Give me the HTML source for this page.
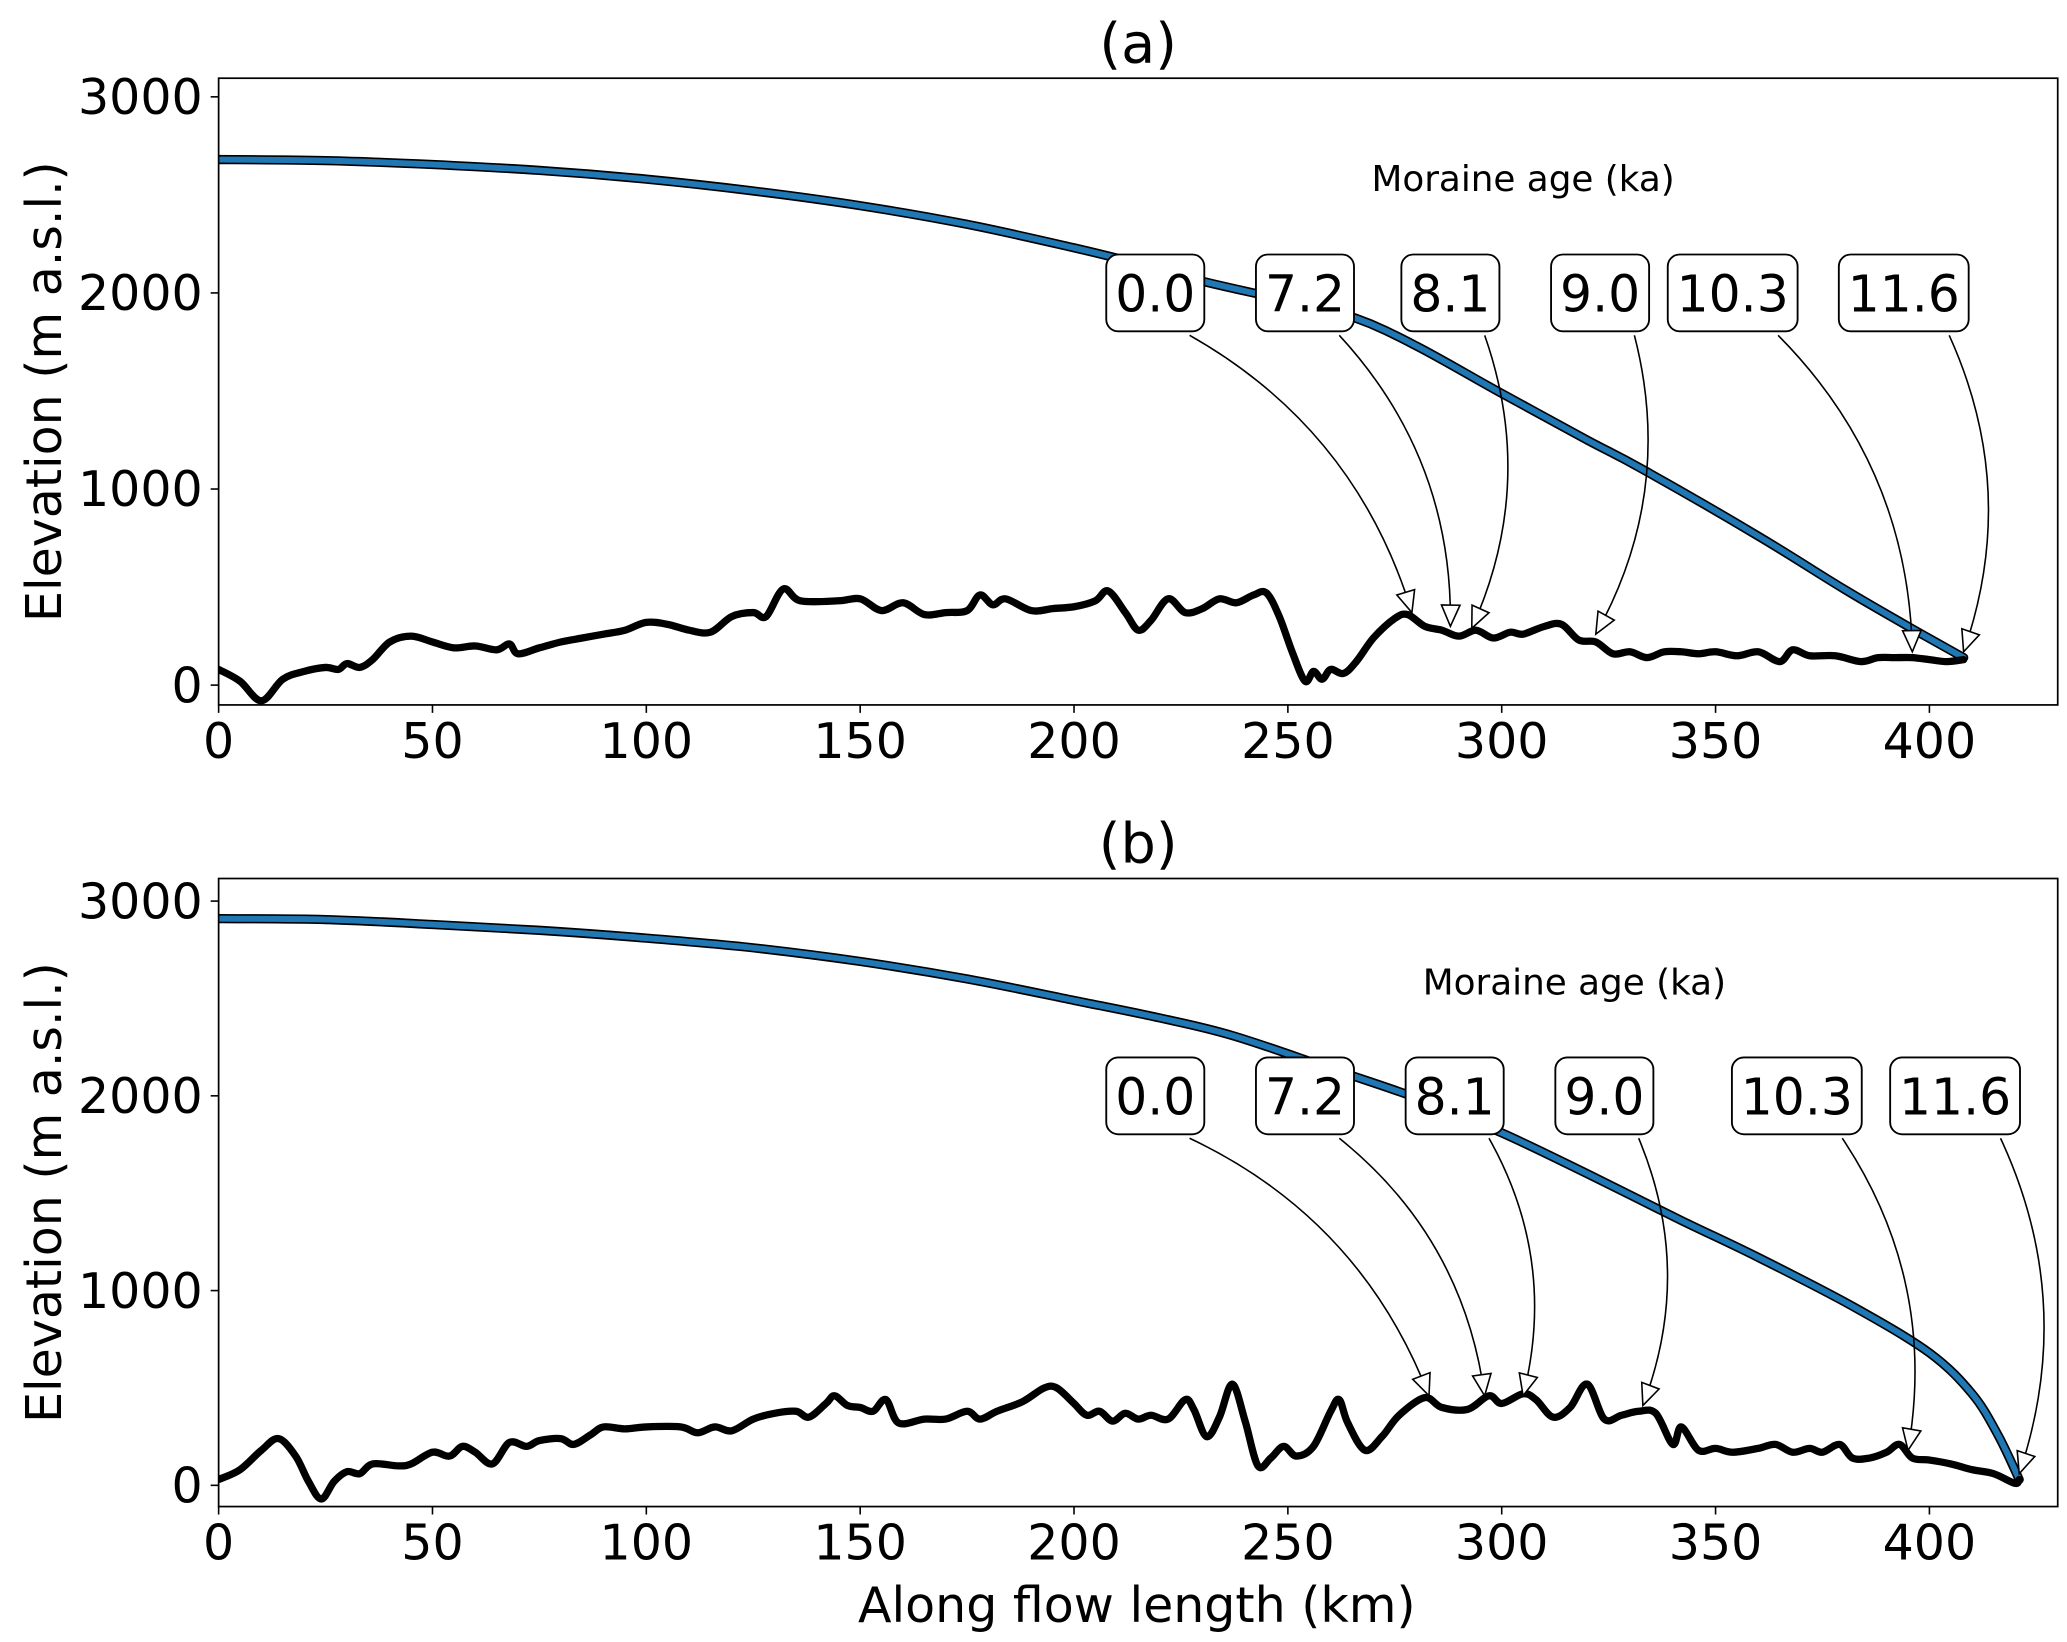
<!DOCTYPE html>
<html><head><meta charset="utf-8"><style>
html,body{margin:0;padding:0;background:#fff}
svg{display:block}
text{font-family:"DejaVu Sans","Liberation Sans",sans-serif;fill:#000}
</style></head><body>
<svg id="chart" width="2067" height="1642" viewBox="0 0 1560 1239.2" xmlns="http://www.w3.org/2000/svg">
</svg>
<script>
// Panel (a) data
const surfA_km = [0,25,50,75,100,125,150,175,200,215,230,250,266,280,299,320,333,360,380,395,408];
const surfA_el = [2680,2675,2655,2625,2580,2520,2445,2350,2230,2150,2060,1960,1870,1730,1500,1250,1100,760,490,300,140];
const bedA_km = [0,5,10,15,20,25,28,30,33,36,40,45,50,55,60,65,68,70,75,80,85,90,95,100,105,110,115,120,125,128,132,136,145,150,155,160,165,170,175,178,181,184,190,195,200,205,208,212,215,218,222,226,230,234,238,242,245,248,251,254,256,258,260,263,266,270,275,278,282,286,290,294,298,302,305,310,314,318,322,326,330,334,338,342,346,350,355,360,365,368,372,378,384,388,392,396,400,404,408];
const bedA_el = [80,20,-80,30,70,90,80,110,90,130,220,250,220,190,200,180,210,160,190,220,240,260,280,320,310,280,270,350,370,350,490,430,430,440,380,420,360,370,380,460,410,440,380,390,400,430,480,370,280,330,440,370,390,440,420,460,470,350,170,20,70,30,80,60,120,240,340,360,300,280,250,280,240,270,260,300,310,230,220,160,170,140,170,170,160,170,150,170,120,180,150,150,120,140,140,140,130,120,130];
const labelsA = ["0.0","7.2","8.1","9.0","10.3","11.6"];
const boxXA_km = [219,254,288,323,354,394];
const tipA_km = [279,288,293,322,396,408];
const tipA_el = [370,300,290,260,170,170];
// Panel (b) data
const surfB_km = [0,25,50,75,100,125,150,175,200,220,237,260,280,300,320,342,360,382,400,410,416,421];
const surfB_el = [2910,2905,2880,2850,2810,2760,2690,2600,2490,2400,2310,2140,1990,1810,1600,1360,1170,920,680,470,260,30];
const bedB_km = [0,5,10,14,18,21,24,27,30,33,36,42,45,50,54,57,60,64,68,72,75,80,83,87,90,95,100,108,112,116,120,125,130,135,138,142,144,147,150,153,156,159,165,170,175,178,182,188,193,196,200,203,206,209,212,215,218,222,226,228,231,234,237,240,243,246,249,252,256,260,262,264,268,272,276,282,286,292,297,300,305,308,312,316,320,324,328,332,336,340,342,346,350,354,360,364,368,372,375,379,382,386,390,393,396,400,405,410,415,420,421];
const bedB_el = [30,80,180,240,150,20,-70,20,70,60,110,100,110,170,150,200,170,110,220,200,230,240,210,260,300,290,300,300,270,300,280,340,370,380,350,420,460,410,400,380,440,320,340,340,380,340,380,430,500,500,420,360,380,330,370,340,360,340,440,390,250,350,520,330,100,140,200,150,200,380,440,320,180,250,360,450,400,390,460,420,470,440,350,400,520,340,360,380,370,210,300,180,190,170,190,210,170,190,170,210,140,140,170,210,140,130,110,80,60,10,30];
const labelsB = ["0.0","7.2","8.1","9.0","10.3","11.6"];
const boxXB_km = [219,254,289,324,369,406];
const tipB_km = [283,296,305,333,395,421];
const tipB_el = [460,460,460,410,180,60];

const xTicks = [0,50,100,150,200,250,300,350,400];
const yTicks = [0,1000,2000,3000];

const NS = "http://www.w3.org/2000/svg";
const svg = document.getElementById('chart');
function mk(tag, attrs, parent){
  const e = document.createElementNS(NS, tag);
  for (const k in attrs) e.setAttribute(k, attrs[k]);
  (parent||svg).appendChild(e);
  return e;
}
function smoothPath(P){
  let d = `M${P[0][0].toFixed(1)},${P[0][1].toFixed(1)}`;
  for (let i=0;i<P.length-1;i++){
    const p0=P[Math.max(0,i-1)], p1=P[i], p2=P[i+1], p3=P[Math.min(P.length-1,i+2)];
    const c1x=p1[0]+(p2[0]-p0[0])/6, c1y=p1[1]+(p2[1]-p0[1])/6;
    const c2x=p2[0]-(p3[0]-p1[0])/6, c2y=p2[1]-(p3[1]-p1[1])/6;
    d += ` C${c1x.toFixed(1)},${c1y.toFixed(1)} ${c2x.toFixed(1)},${c2y.toFixed(1)} ${p2[0].toFixed(1)},${p2[1].toFixed(1)}`;
  }
  return d;
}

function panel(cfg){
  const L=165, R=1553, T=cfg.top, B=cfg.bottom;
  const xmin=0, xmax=430;
  const X = km => L + (km - xmin) / (xmax - xmin) * (R - L);
  const Y = el => B - (el - cfg.ymin) / (cfg.ymax - cfg.ymin) * (B - T);
  const g = mk('g', {});
  
  

  const title = mk('text', {x:(L+R)/2, y:T-12, 'font-size':42, 'text-anchor':'middle'}, g);
  title.textContent = '(' + cfg.id + ')';
  
  

  xTicks.forEach(t => {
    mk('line', {x1:X(t), x2:X(t), y1:B, y2:B+6, stroke:'#000', 'stroke-width':1.2}, g);
    const tx = mk('text', {x:X(t), y:B+40, 'font-size':37, 'text-anchor':'middle'}, g);
    tx.textContent = t;
    
    
  });
  yTicks.forEach(t => {
    mk('line', {x1:L-6, x2:L, y1:Y(t), y2:Y(t), stroke:'#000', 'stroke-width':1.2}, g);
    const ty = mk('text', {x:L-12, y:Y(t)+13, 'font-size':37, 'text-anchor':'end'}, g);
    ty.textContent = t;
    
    
  });
  const yl = mk('text', {x:0, y:0, 'font-size':37, 'text-anchor':'middle', transform:`translate(46,${(T+B)/2}) rotate(-90)`}, g);
  yl.textContent = 'Elevation (m a.s.l.)';
  
  

  const clipId = 'clip' + cfg.id;
  const cp = mk('clipPath', {id:clipId}, g);
  mk('rect', {x:L, y:T, width:R-L, height:B-T}, cp);
  const plot = mk('g', {'clip-path':`url(#${clipId})`}, g);

  const pts = (ks, es) => ks.map((k,i) => [X(k), Y(es[i])]);
  const sp = smoothPath(pts(cfg.surfKm, cfg.surfEl));
  const s1 = mk('path', {d:sp, fill:'none', stroke:'#000', 'stroke-width':7, 'stroke-linejoin':'round', 'stroke-linecap':'round'}, plot);
  
  
  const s2 = mk('path', {d:sp, fill:'none', stroke:'#1f77b4', 'stroke-width':4.5, 'stroke-linejoin':'round', 'stroke-linecap':'round'}, plot);
  
  
  const bl = mk('path', {d:smoothPath(pts(cfg.bedKm, cfg.bedEl)), fill:'none', stroke:'#000', 'stroke-width':5.5, 'stroke-linejoin':'round', 'stroke-linecap':'round'}, plot);
  
  

  const fr = mk('rect', {x:L, y:T, width:R-L, height:B-T, fill:'none', stroke:'#000', 'stroke-width':1.3}, g);
  
  

  const mt = mk('text', {x:X(cfg.mtKm), y:Y(cfg.mtEl), 'font-size':27, 'text-anchor':'middle'}, g);
  mt.textContent = 'Moraine age (ka)';
  
  

  const boxY = Y(2000);
  cfg.labels.forEach((lab, i) => {
    const cx = X(cfg.boxKm[i]);
    const w = lab.length > 3 ? 98 : 74, h = 58;
    const tx = X(cfg.tipKm[i]), ty = Y(cfg.tipEl[i]);
    const sx = cx + w*0.35, sy = boxY + h/2 + 3;
    const mx=(sx+tx)/2, my=(sy+ty)/2, dx=tx-sx, dy=ty-sy;
    const cxp = mx + dy*0.2, cyp = my - dx*0.2;
    const ar = mk('path', {d:`M${sx},${sy} Q${cxp},${cyp} ${tx},${ty}`, fill:'none', stroke:'#000', 'stroke-width':1.2}, g);
    
    
    let ax = tx - cxp, ay = ty - cyp; const n = Math.hypot(ax, ay); ax/=n; ay/=n;
    const hl=16, hw=7;
    const bx = tx - ax*hl, by = ty - ay*hl;
    const head = mk('polygon', {points:`${tx},${ty} ${bx-ay*hw},${by+ax*hw} ${bx+ay*hw},${by-ax*hw}`, fill:'#fff', stroke:'#000', 'stroke-width':1.2}, g);
    
    
    const bx1 = mk('rect', {x:cx-w/2, y:boxY-h/2, width:w, height:h, rx:9, fill:'#fff', stroke:'#000', 'stroke-width':1.4}, g);
    
    
    const t = mk('text', {x:cx, y:boxY+14, 'font-size':38, 'text-anchor':'middle'}, g);
    t.textContent = lab;
    
    
  });
}

panel({id:'a', top:59, bottom:532, ymin:-101, ymax:3095, surfKm:surfA_km, surfEl:surfA_el, bedKm:bedA_km, bedEl:bedA_el, labels:labelsA, boxKm:boxXA_km, tipKm:tipA_km, tipEl:tipA_el, mtKm:305, mtEl:2520});
panel({id:'b', top:663, bottom:1137, ymin:-109, ymax:3116, surfKm:surfB_km, surfEl:surfB_el, bedKm:bedB_km, bedEl:bedB_el, labels:labelsB, boxKm:boxXB_km, tipKm:tipB_km, tipEl:tipB_el, mtKm:317, mtEl:2520});

const xl = mk('text', {x:858, y:1224, 'font-size':37, 'text-anchor':'middle'});
xl.textContent = 'Along flow length (km)';


</script>
</body></html>
